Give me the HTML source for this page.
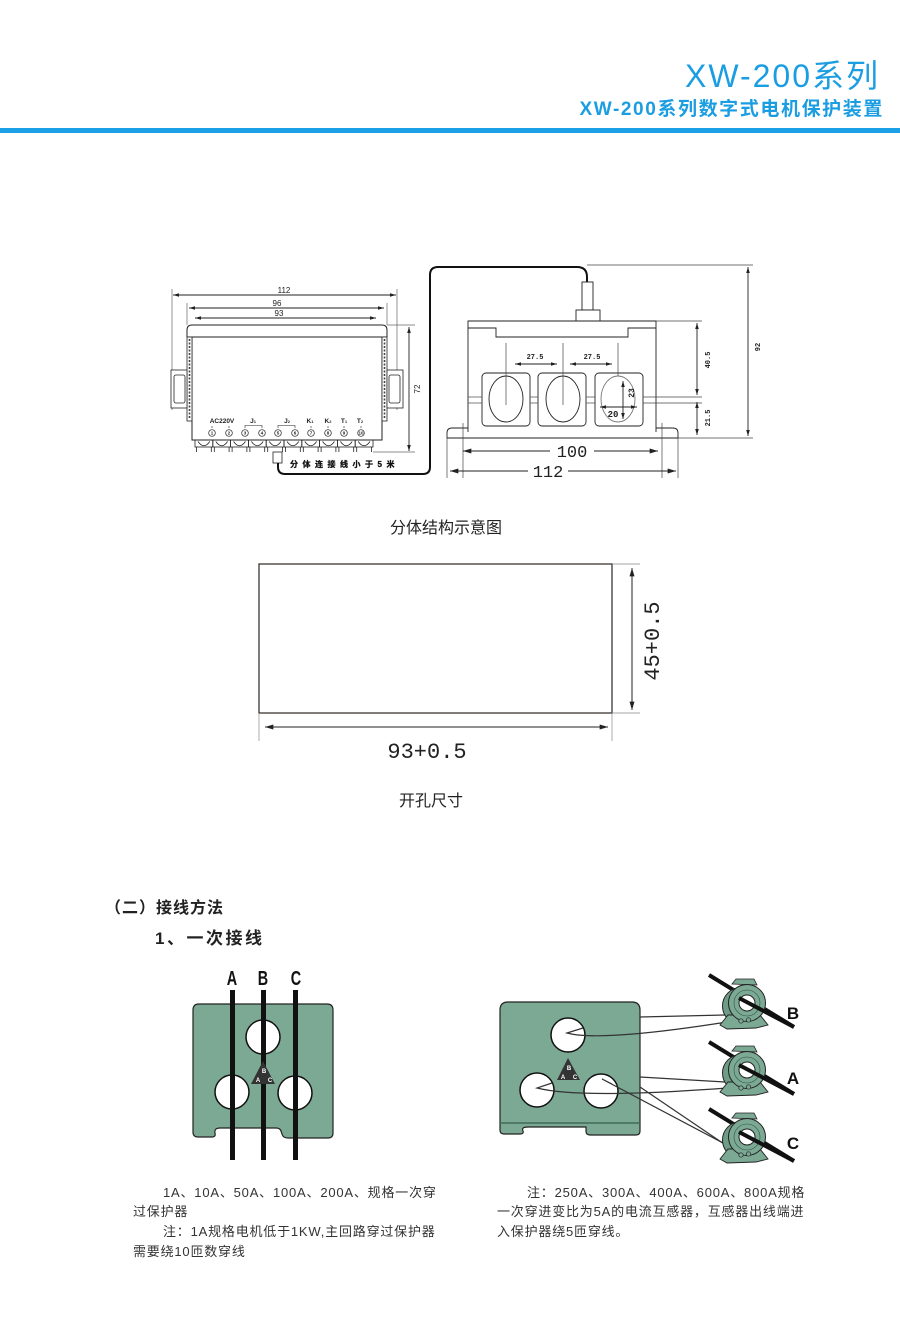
<!DOCTYPE html>
<html><head><meta charset="utf-8">
<style>
html,body{margin:0;padding:0;background:#fff;}
svg{display:block;}
text{font-family:"Liberation Sans","Noto Sans CJK SC",sans-serif;}
.mono{font-family:"Liberation Mono","Noto Sans CJK SC",monospace;}
</style></head><body>
<svg width="900" height="1339" viewBox="0 0 900 1339" xmlns="http://www.w3.org/2000/svg">
<defs>
<marker id="as" viewBox="0 0 10 6" refX="10" refY="3" markerWidth="6" markerHeight="3.6" markerUnits="userSpaceOnUse" orient="auto-start-reverse"><path d="M0,0 L10,3 L0,6 Z" fill="#222"/></marker>
<marker id="al" viewBox="0 0 10 6" refX="10" refY="3" markerWidth="10" markerHeight="5" markerUnits="userSpaceOnUse" orient="auto-start-reverse"><path d="M0,0 L10,3 L0,6 Z" fill="#222"/></marker>
<g id="tb" fill="none" stroke="#222" stroke-width="0.8">
<rect x="0" y="0" width="17.8" height="7"/>
<path d="M3,1.5 Q8.9,10 14.8,1.5"/>
<line x1="1.5" y1="7" x2="1.5" y2="12"/>
<line x1="16.3" y1="7" x2="16.3" y2="12"/>
</g>
<g id="ct">
<line x1="-38" y1="-28" x2="47" y2="24" stroke="#111" stroke-width="4"/>
<circle cx="-6" cy="3" r="18.5" fill="#6f9c87" stroke="#222" stroke-width="1"/>
<path d="M-15,-19 L-11,-24 L7,-24 L10,-18 Z" fill="#7ba994" stroke="#222" stroke-width="0.8"/>
<path d="M-27,22 L-19,12 L13,12 L21,22 L9,25 L-20,26 Z" fill="#7ba994" stroke="#222" stroke-width="0.9"/>
<circle cx="0" cy="0" r="18.5" fill="#7ba994" stroke="#222" stroke-width="1"/>
<circle cx="0" cy="0" r="13" fill="none" stroke="#2f4f42" stroke-width="0.6"/>
<circle cx="0" cy="0" r="8" fill="#fff" stroke="#222" stroke-width="1"/>
<line x1="-8" y1="-5" x2="47" y2="24" stroke="#111" stroke-width="4"/>
<circle cx="-6" cy="18" r="2.2" fill="#7ba994" stroke="#222" stroke-width="0.7"/>
<circle cx="1.5" cy="17" r="2.2" fill="#7ba994" stroke="#222" stroke-width="0.7"/>
</g>
</defs>

<!-- Header -->
<text x="880" y="87" text-anchor="end" font-size="32" fill="#1b9de2" letter-spacing="2">XW-200系列</text>
<text x="884" y="115" text-anchor="end" font-size="19" font-weight="bold" fill="#1b9de2" letter-spacing="1.6">XW-200系列数字式电机保护装置</text>
<rect x="0" y="128" width="900" height="5" fill="#1ca1e8"/>

<!-- Left device drawing -->
<g stroke="#666" stroke-width="0.7" fill="none">
<line x1="172" y1="289" x2="172" y2="410"/>
<line x1="397" y1="289" x2="397" y2="410"/>
<line x1="187" y1="303" x2="187" y2="325"/>
<line x1="387" y1="303" x2="387" y2="325"/>
<line x1="387" y1="325" x2="415" y2="325"/>
<line x1="373" y1="452" x2="415" y2="452"/>
</g>
<g stroke="#222" stroke-width="0.9">
<line x1="173" y1="295" x2="396" y2="295" marker-start="url(#as)" marker-end="url(#as)"/>
<line x1="189" y1="308" x2="384" y2="308" marker-start="url(#as)" marker-end="url(#as)"/>
<line x1="195" y1="318" x2="376" y2="318" marker-start="url(#as)" marker-end="url(#as)"/>
<line x1="409" y1="327" x2="409" y2="451" marker-start="url(#as)" marker-end="url(#as)"/>
</g>
<g font-size="8" fill="#222" text-anchor="middle">
<text x="284" y="293">112</text>
<text x="277" y="306">96</text>
<text x="279" y="316">93</text>
<text transform="translate(420,389) rotate(-90)">72</text>
</g>
<path d="M187,337 L187,330 Q187,325 192,325 L382,325 Q387,325 387,330 L387,337 Z" fill="#fff" stroke="#222" stroke-width="1"/>
<rect x="192" y="337" width="190" height="103" fill="#fff" stroke="#222" stroke-width="1"/>
<g fill="#fff" stroke="#222" stroke-width="0.8">
<rect x="187" y="337" width="5" height="84"/>
<rect x="382" y="337" width="5" height="84"/>
<rect x="171" y="370" width="16" height="38"/>
<rect x="174" y="375" width="11" height="28" rx="2"/>
<rect x="387" y="370" width="16" height="38"/>
<rect x="389" y="375" width="11" height="28" rx="2"/>
</g>
<g stroke="#444" stroke-width="1.6" stroke-dasharray="2,1.5">
<line x1="189.5" y1="339" x2="189.5" y2="419"/>
<line x1="384.5" y1="339" x2="384.5" y2="419"/>
</g>
<g font-size="6.5" font-weight="bold" fill="#222" text-anchor="middle">
<text x="222" y="423">AC220V</text>
<text x="253" y="423">J<tspan font-size="4">1</tspan></text>
<text x="287" y="423">J<tspan font-size="4">2</tspan></text>
<text x="310" y="423">K<tspan font-size="4">1</tspan></text>
<text x="328" y="423">K<tspan font-size="4">2</tspan></text>
<text x="344" y="423">T<tspan font-size="4">1</tspan></text>
<text x="360" y="423">T<tspan font-size="4">2</tspan></text>
</g>
<g fill="none" stroke="#222" stroke-width="0.6">
<path d="M245,428 L245,425.5 L262,425.5 L262,428"/>
<path d="M278,428 L278,425.5 L295,425.5 L295,428"/>
<line x1="212" y1="426" x2="212" y2="428"/><line x1="229" y1="426" x2="229" y2="428"/>
<line x1="311" y1="426" x2="311" y2="428"/><line x1="328" y1="426" x2="328" y2="428"/>
<line x1="344" y1="426" x2="344" y2="428"/><line x1="361" y1="426" x2="361" y2="428"/>
</g>
<g fill="#fff" stroke="#222" stroke-width="0.7">
<circle cx="212" cy="433" r="3.3"/><circle cx="229" cy="433" r="3.3"/><circle cx="245" cy="433" r="3.3"/><circle cx="262" cy="433" r="3.3"/><circle cx="278" cy="433" r="3.3"/><circle cx="295" cy="433" r="3.3"/><circle cx="311" cy="433" r="3.3"/><circle cx="328" cy="433" r="3.3"/><circle cx="344" cy="433" r="3.3"/><circle cx="361" cy="433" r="3.3"/>
</g>
<g font-size="4.5" fill="#222" text-anchor="middle" font-weight="bold">
<text x="212" y="434.6">1</text><text x="229" y="434.6">2</text><text x="245" y="434.6">3</text><text x="262" y="434.6">4</text><text x="278" y="434.6">5</text><text x="295" y="434.6">6</text><text x="311" y="434.6">7</text><text x="328" y="434.6">8</text><text x="344" y="434.6">9</text><text x="361" y="434.6">10</text>
</g>
<use href="#tb" x="195" y="440"/><use href="#tb" x="212.8" y="440"/><use href="#tb" x="230.6" y="440"/><use href="#tb" x="248.4" y="440"/><use href="#tb" x="266.2" y="440"/><use href="#tb" x="284" y="440"/><use href="#tb" x="301.8" y="440"/><use href="#tb" x="319.6" y="440"/><use href="#tb" x="337.4" y="440"/><use href="#tb" x="355.2" y="440"/>
<rect x="273" y="452" width="9" height="11" fill="#fff" stroke="#222" stroke-width="0.8"/>
<path d="M278,463 L278,467 Q278,474 285,474 L423,474 Q430,474 430,467 L430,275 Q430,267 438,267 L577,267 Q587,267 587,277 L587,282" fill="none" stroke="#111" stroke-width="2"/>
<text x="290" y="467" font-size="8" font-weight="bold" fill="#111" stroke="#111" stroke-width="0.3" letter-spacing="4.5">分体连接线小于5米</text>

<!-- Right device drawing -->
<g fill="#fff" stroke="#222" stroke-width="0.9">
<rect x="582" y="282" width="11" height="28"/>
<rect x="576" y="310" width="24" height="11"/>
</g>
<g fill="none" stroke="#222" stroke-width="0.9">
<path d="M468,432 L468,321 L656,321 L656,432"/>
<path d="M468,328 L496,328 L496,337 L628,337 L628,328 L656,328"/>
<path d="M468,428 L452,428 Q447,428 447,433 L447,438 L678,438 L678,433 Q678,428 673,428 L656,428"/>
<rect x="482" y="373" width="48" height="53" rx="4"/>
<rect x="538" y="373" width="48" height="53" rx="4"/>
<rect x="595" y="373" width="48" height="53" rx="4"/>
<ellipse cx="506" cy="399" rx="17" ry="23"/>
<ellipse cx="563" cy="399" rx="17" ry="23"/>
<ellipse cx="618" cy="399" rx="17" ry="23" stroke="#777"/>
</g>
<g stroke="#444" stroke-width="0.7">
<line x1="468" y1="397" x2="482" y2="397"/><line x1="530" y1="397" x2="538" y2="397"/><line x1="586" y1="397" x2="595" y2="397"/><line x1="643" y1="397" x2="702" y2="397"/>
<line x1="468" y1="403" x2="482" y2="403"/><line x1="530" y1="403" x2="538" y2="403"/><line x1="586" y1="403" x2="595" y2="403"/><line x1="643" y1="403" x2="702" y2="403"/>
<line x1="506" y1="343" x2="506" y2="405"/><line x1="563" y1="343" x2="563" y2="405"/><line x1="618" y1="343" x2="618" y2="376"/>
<line x1="656" y1="321" x2="702" y2="321"/>
<line x1="587" y1="265" x2="753" y2="265"/>
<line x1="678" y1="438" x2="753" y2="438"/>
<line x1="463" y1="423" x2="463" y2="478"/><line x1="662" y1="423" x2="662" y2="478"/>
<line x1="447" y1="438" x2="447" y2="478"/><line x1="678" y1="438" x2="678" y2="478"/>
</g>
<g stroke="#222" stroke-width="0.9">
<line x1="515" y1="364" x2="557" y2="364" marker-start="url(#as)" marker-end="url(#as)"/>
<line x1="570" y1="364" x2="612" y2="364" marker-start="url(#as)" marker-end="url(#as)"/>
<line x1="623" y1="381" x2="623" y2="419" marker-start="url(#as)" marker-end="url(#as)"/>
<line x1="600" y1="407" x2="637" y2="407" marker-start="url(#as)" marker-end="url(#as)"/>
<line x1="697" y1="323" x2="697" y2="395" marker-start="url(#as)" marker-end="url(#as)"/>
<line x1="697" y1="402" x2="697" y2="435" marker-start="url(#as)" marker-end="url(#as)"/>
<line x1="748" y1="267" x2="748" y2="436" marker-start="url(#as)" marker-end="url(#as)"/>
<line x1="463" y1="451" x2="550" y2="451" marker-start="url(#al)"/>
<line x1="594" y1="451" x2="658" y2="451" marker-end="url(#al)"/>
<line x1="450" y1="471" x2="528" y2="471" marker-start="url(#al)"/>
<line x1="568" y1="471" x2="676" y2="471" marker-end="url(#al)"/>
</g>
<g class="mono" font-size="7" fill="#222" text-anchor="middle" font-weight="bold">
<text x="535" y="359" class="mono">27.5</text>
<text x="592" y="359" class="mono">27.5</text>
<text x="613" y="417" class="mono" font-size="9">20</text>
<text class="mono" font-size="8" transform="translate(634,393) rotate(-90)">23</text>
<text class="mono" transform="translate(710,360) rotate(-90)">40.5</text>
<text class="mono" transform="translate(710,418) rotate(-90)">21.5</text>
<text class="mono" transform="translate(760,347) rotate(-90)">92</text>
</g>
<text class="mono" x="572" y="457" font-size="17" fill="#222" text-anchor="middle">100</text>
<text class="mono" x="548" y="477" font-size="17" fill="#222" text-anchor="middle">112</text>

<text x="446" y="533" font-size="16" fill="#222" text-anchor="middle">分体结构示意图</text>

<!-- Cutout -->
<rect x="259" y="564" width="353" height="149" fill="#fff" stroke="#3b3532" stroke-width="1.3"/>
<g stroke="#888" stroke-width="0.7">
<line x1="612" y1="564" x2="640" y2="564"/><line x1="612" y1="713" x2="640" y2="713"/>
<line x1="259" y1="713" x2="259" y2="741"/><line x1="612" y1="713" x2="612" y2="741"/>
</g>
<g stroke="#222" stroke-width="1">
<line x1="632" y1="568" x2="632" y2="710" marker-start="url(#al)" marker-end="url(#al)"/>
<line x1="265" y1="727" x2="608" y2="727" marker-start="url(#al)" marker-end="url(#al)"/>
</g>
<text class="mono" font-size="22" fill="#222" text-anchor="middle" transform="translate(659,641) rotate(-90)">45+0.5</text>
<text class="mono" x="427" y="758" font-size="22" fill="#222" text-anchor="middle">93+0.5</text>
<text x="431" y="806" font-size="16" fill="#222" text-anchor="middle">开孔尺寸</text>

<!-- Section -->
<text x="105" y="913" font-size="16" font-weight="bold" fill="#222" letter-spacing="1">（二）接线方法</text>
<text x="155" y="944" font-size="17" font-weight="bold" fill="#222" letter-spacing="2.5">1、一次接线</text>

<!-- Left plate -->
<g font-size="20" font-weight="bold" fill="#111" text-anchor="middle">
<text transform="translate(232,985) scale(0.72,1)">A</text>
<text transform="translate(263,985) scale(0.72,1)">B</text>
<text transform="translate(296,985) scale(0.72,1)">C</text>
</g>
<path d="M193,1010 Q193,1004 199,1004 L327,1004 Q333,1004 333,1010 L333,1133 Q333,1138 328,1138 L288,1138 Q283,1138 282,1134 L281,1131 Q280,1128 276,1128 L220,1128 Q214,1128 215,1133 Q216,1137 212,1137 L198,1137 Q193,1137 193,1132 Z" fill="#7ba994" stroke="#222" stroke-width="1.2"/>
<g fill="#fff" stroke="#111" stroke-width="1.5">
<circle cx="263" cy="1037" r="17"/>
<circle cx="232" cy="1092" r="17"/>
<circle cx="295" cy="1093" r="17"/>
</g>
<g fill="#111">
<rect x="230" y="990" width="5" height="170"/>
<rect x="261" y="990" width="5" height="170"/>
<rect x="293" y="990" width="5" height="170"/>
<polygon points="263,1061 251,1084 275,1084" fill="#333"/>
</g>
<g font-size="6" font-weight="bold" fill="#fff" text-anchor="middle">
<text x="264" y="1073">B</text><text x="258" y="1082">A</text><text x="270" y="1082">C</text>
</g>

<!-- Right plate -->
<path d="M500,1010 Q500,1002 508,1002 L632,1002 Q640,1002 640,1010 L640,1131 Q640,1135 636,1135 L590,1135 Q586,1135 586,1131 L586,1127 L528,1127 Q521,1127 523,1131 Q524,1134 520,1134 L504,1134 Q500,1134 500,1130 Z" fill="#7ba994" stroke="#222" stroke-width="1.2"/>
<line x1="500" y1="1123" x2="640" y2="1123" stroke="#3f6a58" stroke-width="1.6"/>
<g fill="#fff" stroke="#111" stroke-width="1.5">
<circle cx="568" cy="1035" r="17"/>
<circle cx="537" cy="1090" r="17"/>
<circle cx="601" cy="1091" r="17"/>
</g>
<polygon points="568,1058 557,1080 580,1080" fill="#333"/>
<g font-size="6" font-weight="bold" fill="#fff" text-anchor="middle">
<text x="569" y="1070">B</text><text x="563" y="1079">A</text><text x="575" y="1079">C</text>
</g>
<g fill="none" stroke="#333" stroke-width="1.2">
<path d="M640,1017 L725,1015"/>
<path d="M583,1028 L567,1033 Q600,1042 727,1022"/>
<path d="M640,1077 L725,1082"/>
<path d="M552,1083 L537,1088 Q580,1099 727,1088"/>
<path d="M612,1084 L602,1079 L740,1152"/>
<path d="M640,1087 L733,1150"/>
</g>
<use href="#ct" x="747" y="1003"/>
<use href="#ct" x="747" y="1070"/>
<use href="#ct" x="747" y="1137"/>
<g font-size="17" font-weight="bold" fill="#111" text-anchor="middle">
<text x="793" y="1019">B</text>
<text x="793" y="1084">A</text>
<text x="793" y="1149">C</text>
</g>

<!-- Paragraphs -->
<g font-size="13" fill="#333" letter-spacing="0.8">
<text x="163" y="1197">1A、10A、50A、100A、200A、规格一次穿</text>
<text x="133" y="1216">过保护器</text>
<text x="163" y="1236">注：1A规格电机低于1KW,主回路穿过保护器</text>
<text x="133" y="1256">需要绕10匝数穿线</text>
<text x="527" y="1197">注：250A、300A、400A、600A、800A规格</text>
<text x="497" y="1216">一次穿进变比为5A的电流互感器，互感器出线端进</text>
<text x="497" y="1236">入保护器绕5匝穿线。</text>
</g>
</svg>
</body></html>
